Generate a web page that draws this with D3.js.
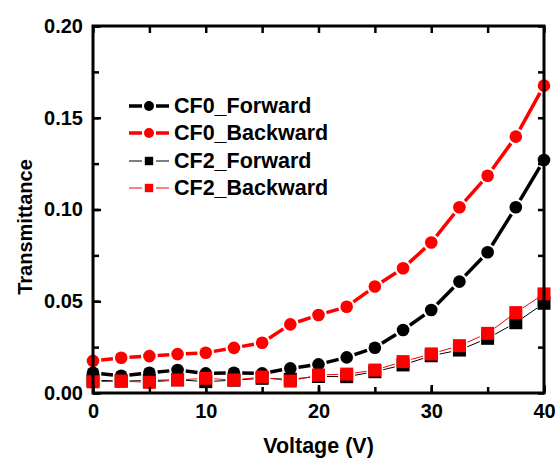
<!DOCTYPE html>
<html><head><meta charset="utf-8">
<script src="https://cdn.jsdelivr.net/npm/d3@7"></script>
<style>html,body{margin:0;padding:0;background:#fff;}svg{display:block;}</style>
</head><body>
<svg id="chart" width="557" height="459"></svg>
<script>
const voltage = [0,2.5,5,7.5,10,12.5,15,17.5,20,22.5,25,27.5,30,32.5,35,37.5,40];
const cf0Forward  = [0.0110,0.0094,0.0110,0.0125,0.0107,0.0110,0.0107,0.0134,0.0156,0.0194,0.0247,0.0343,0.0452,0.0607,0.0767,0.1012,0.1270];
const cf0Backward = [0.0175,0.0192,0.0201,0.0212,0.0219,0.0246,0.0274,0.0374,0.0425,0.0470,0.0580,0.0680,0.0820,0.1012,0.1184,0.1397,0.1675];
const cf2Forward  = [0.0070,0.0065,0.0068,0.0072,0.0062,0.0070,0.0080,0.0075,0.0090,0.0089,0.0116,0.0153,0.0203,0.0234,0.0298,0.0383,0.0489];
const cf2Backward = [0.0061,0.0065,0.0058,0.0071,0.0080,0.0071,0.0087,0.0065,0.0098,0.0103,0.0125,0.0171,0.0213,0.0258,0.0325,0.0438,0.0540];
const seriesNames = ["CF0_Forward","CF0_Backward","CF2_Forward","CF2_Backward"];
const xTicks = [0,10,20,30,40];
const yTicks = [0.00,0.05,0.10,0.15,0.20];
const xTitle = "Voltage (V)";
const yTitle = "Transmittance";

const series = [
  {name: seriesNames[0], values: cf0Forward,  color: "#000000", shape: "circle", lw: 3.5},
  {name: seriesNames[1], values: cf0Backward, color: "#ff0000", shape: "circle", lw: 3.5},
  {name: seriesNames[2], values: cf2Forward,  color: "#000000", shape: "square", lw: 1},
  {name: seriesNames[3], values: cf2Backward, color: "#ff0000", shape: "square", lw: 1}
];

const L = 93, R = 544, T = 26, B = 393;
const x = d3.scaleLinear().domain([0,40]).range([L,R]);
const y = d3.scaleLinear().domain([0,0.20]).range([B,T]);
const svg = d3.select("#chart");
const font = "'Liberation Sans', Arial, sans-serif";

// series
const plot = svg.append("g");
series.forEach(s => {
  const pts = voltage.map((v,i) => [x(v), y(s.values[i])]);
  const r = s.shape === "circle" ? 6.3 : 6.5;
  const gap = r + 2;
  const g = plot.append("g");
  for (let i = 0; i < pts.length - 1; i++) {
    const [x1,y1] = pts[i], [x2,y2] = pts[i+1];
    const dx = x2-x1, dy = y2-y1, len = Math.hypot(dx,dy);
    if (len <= 2*gap) continue;
    const ux = dx/len, uy = dy/len;
    g.append("line")
      .attr("x1", x1+ux*gap).attr("y1", y1+uy*gap)
      .attr("x2", x2-ux*gap).attr("y2", y2-uy*gap)
      .attr("stroke", s.color).attr("stroke-width", s.lw);
  }
  pts.forEach(p => {
    if (s.shape === "circle") {
      g.append("circle").attr("cx", p[0]).attr("cy", p[1]).attr("r", r).attr("fill", s.color);
    } else {
      g.append("rect").attr("x", p[0]-r).attr("y", p[1]-r).attr("width", 2*r).attr("height", 2*r).attr("fill", s.color);
    }
  });
});

// axes with inward ticks
const tickStyle = g => { g.select(".domain").remove(); g.selectAll("line").attr("stroke","#000").attr("stroke-width",2.5); };
const xMinor = d3.range(0,40.01,5);
const yMinor = d3.range(0,0.2001,0.025);

const xb = svg.append("g").attr("transform",`translate(0,${B})`)
  .call(d3.axisBottom(x).tickValues(xMinor).tickSize(-6).tickFormat(""));
xb.call(tickStyle);
const xbl = svg.append("g").attr("transform",`translate(0,${B})`)
  .call(d3.axisBottom(x).tickValues(xTicks).tickSize(-8).tickPadding(11).tickFormat(d3.format("d")));
xbl.call(tickStyle);
xbl.selectAll("text").attr("font-family",font).attr("font-weight","bold").attr("font-size",20).attr("fill","#000");

const xt = svg.append("g").attr("transform",`translate(0,${T})`)
  .call(d3.axisTop(x).tickValues(xMinor).tickSize(-7).tickFormat(""));
xt.call(tickStyle);

const yl = svg.append("g").attr("transform",`translate(${L},0)`)
  .call(d3.axisLeft(y).tickValues(yMinor).tickSize(-6).tickFormat(""));
yl.call(tickStyle);
const yll = svg.append("g").attr("transform",`translate(${L},0)`)
  .call(d3.axisLeft(y).tickValues(yTicks).tickSize(-8).tickPadding(10).tickFormat(d3.format(".2f")));
yll.call(tickStyle);
yll.selectAll("text").attr("font-family",font).attr("font-weight","bold").attr("font-size",20).attr("fill","#000");

const yr = svg.append("g").attr("transform",`translate(${R},0)`)
  .call(d3.axisRight(y).tickValues(yMinor).tickSize(-6).tickFormat(""));
yr.call(tickStyle);

// frame
svg.append("rect").attr("x",L).attr("y",T).attr("width",R-L).attr("height",B-T)
  .attr("fill","none").attr("stroke","#000").attr("stroke-width",3);

// titles
svg.append("text").attr("x",(L+R)/2).attr("y",453).attr("text-anchor","middle")
  .attr("font-family",font).attr("font-weight","bold").attr("font-size",21.5).text(xTitle);
svg.append("text").attr("transform",`translate(32,227) rotate(-90)`).attr("text-anchor","middle")
  .attr("font-family",font).attr("font-weight","bold").attr("font-size",20).text(yTitle);

// legend
const lg = svg.append("g");
const rowY = [106, 133, 161, 188];
series.forEach((s,i) => {
  const cy = rowY[i];
  const g = lg.append("g");
  const mr = s.shape === "circle" ? 5 : 4.2;
  g.append("line").attr("x1",129).attr("x2",142).attr("y1",cy).attr("y2",cy).attr("stroke",s.color).attr("stroke-width",s.lw);
  g.append("line").attr("x1",156).attr("x2",169).attr("y1",cy).attr("y2",cy).attr("stroke",s.color).attr("stroke-width",s.lw);
  if (s.shape === "circle") g.append("circle").attr("cx",149).attr("cy",cy).attr("r",mr).attr("fill",s.color);
  else g.append("rect").attr("x",149-mr).attr("y",cy-mr).attr("width",2*mr).attr("height",2*mr).attr("fill",s.color);
  g.append("text").attr("x",174).attr("y",cy+7).attr("font-family",font).attr("font-weight","bold")
    .attr("font-size",21.5).attr("fill","#000").text(s.name);
});
</script>
</body></html>
